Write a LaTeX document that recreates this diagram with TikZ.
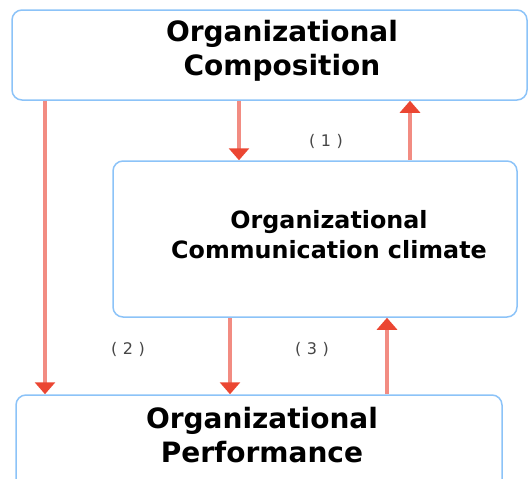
\documentclass[tikz,border=0pt]{standalone}
\usepackage{fontspec}
\setmainfont{DejaVu Sans}
\newfontfamily\lblfont[LetterSpace=35]{DejaVu Sans}
\usetikzlibrary{arrows.meta}
\definecolor{boxblue}{RGB}{140,195,248}
\definecolor{arrowred}{RGB}{235,70,50}
\definecolor{linepink}{RGB}{242,140,130}
\definecolor{lblgray}{RGB}{70,70,70}
\begin{document}
\begin{tikzpicture}[x=1pt,y=-1pt,
  box/.style={draw=boxblue, line width=1.5pt, rounded corners=10pt, inner sep=0pt},
  bigtext/.style={anchor=base, align=center, font=\bfseries\fontsize{28}{33.5}\selectfont},
  midtext/.style={anchor=base, align=center, font=\bfseries\fontsize{23.8}{30}\selectfont},
  numlbl/.style={font=\lblfont\fontsize{16}{18}\selectfont, text=lblgray, inner sep=0pt},
  arr/.style={draw=linepink, line width=4pt, -{Triangle[width=20pt,length=12pt,color=arrowred]}}]
\useasboundingbox (0,0) rectangle (528,479);
\clip (0,0) rectangle (528,479);
% boxes
\node[box, minimum width=515pt, minimum height=90pt] (comp) at (269.5,55) {};
\node[box, minimum width=404pt, minimum height=156pt] (clim) at (315,239) {};
\node[box, minimum width=486pt, minimum height=100pt] (perf) at (259,445) {};
% texts (base anchor = last line baseline)
\node[bigtext] (tcomp) at (282,75) {Organizational\\Composition};
\node[midtext] (tclim) at (329,258) {Organizational\\Communication climate};
\node[bigtext] (tperf) at (262,462) {Organizational\\Performance};
% labels
\node[numlbl] (l1) at (326,141) {(1)};
\node[numlbl] (l2) at (128,349) {(2)};
\node[numlbl] (l3) at (312,349) {(3)};
% arrows
\draw[arr] (45,0 |- comp.south) -- (45,0 |- perf.north);
\draw[arr] (239,0 |- comp.south) -- (239,0 |- clim.north);
\draw[arr] (410,0 |- clim.north) -- (410,0 |- comp.south);
\draw[arr] (230,0 |- clim.south) -- (230,0 |- perf.north);
\draw[arr] (387,0 |- perf.north) -- (387,0 |- clim.south);
\end{tikzpicture}
\end{document}
